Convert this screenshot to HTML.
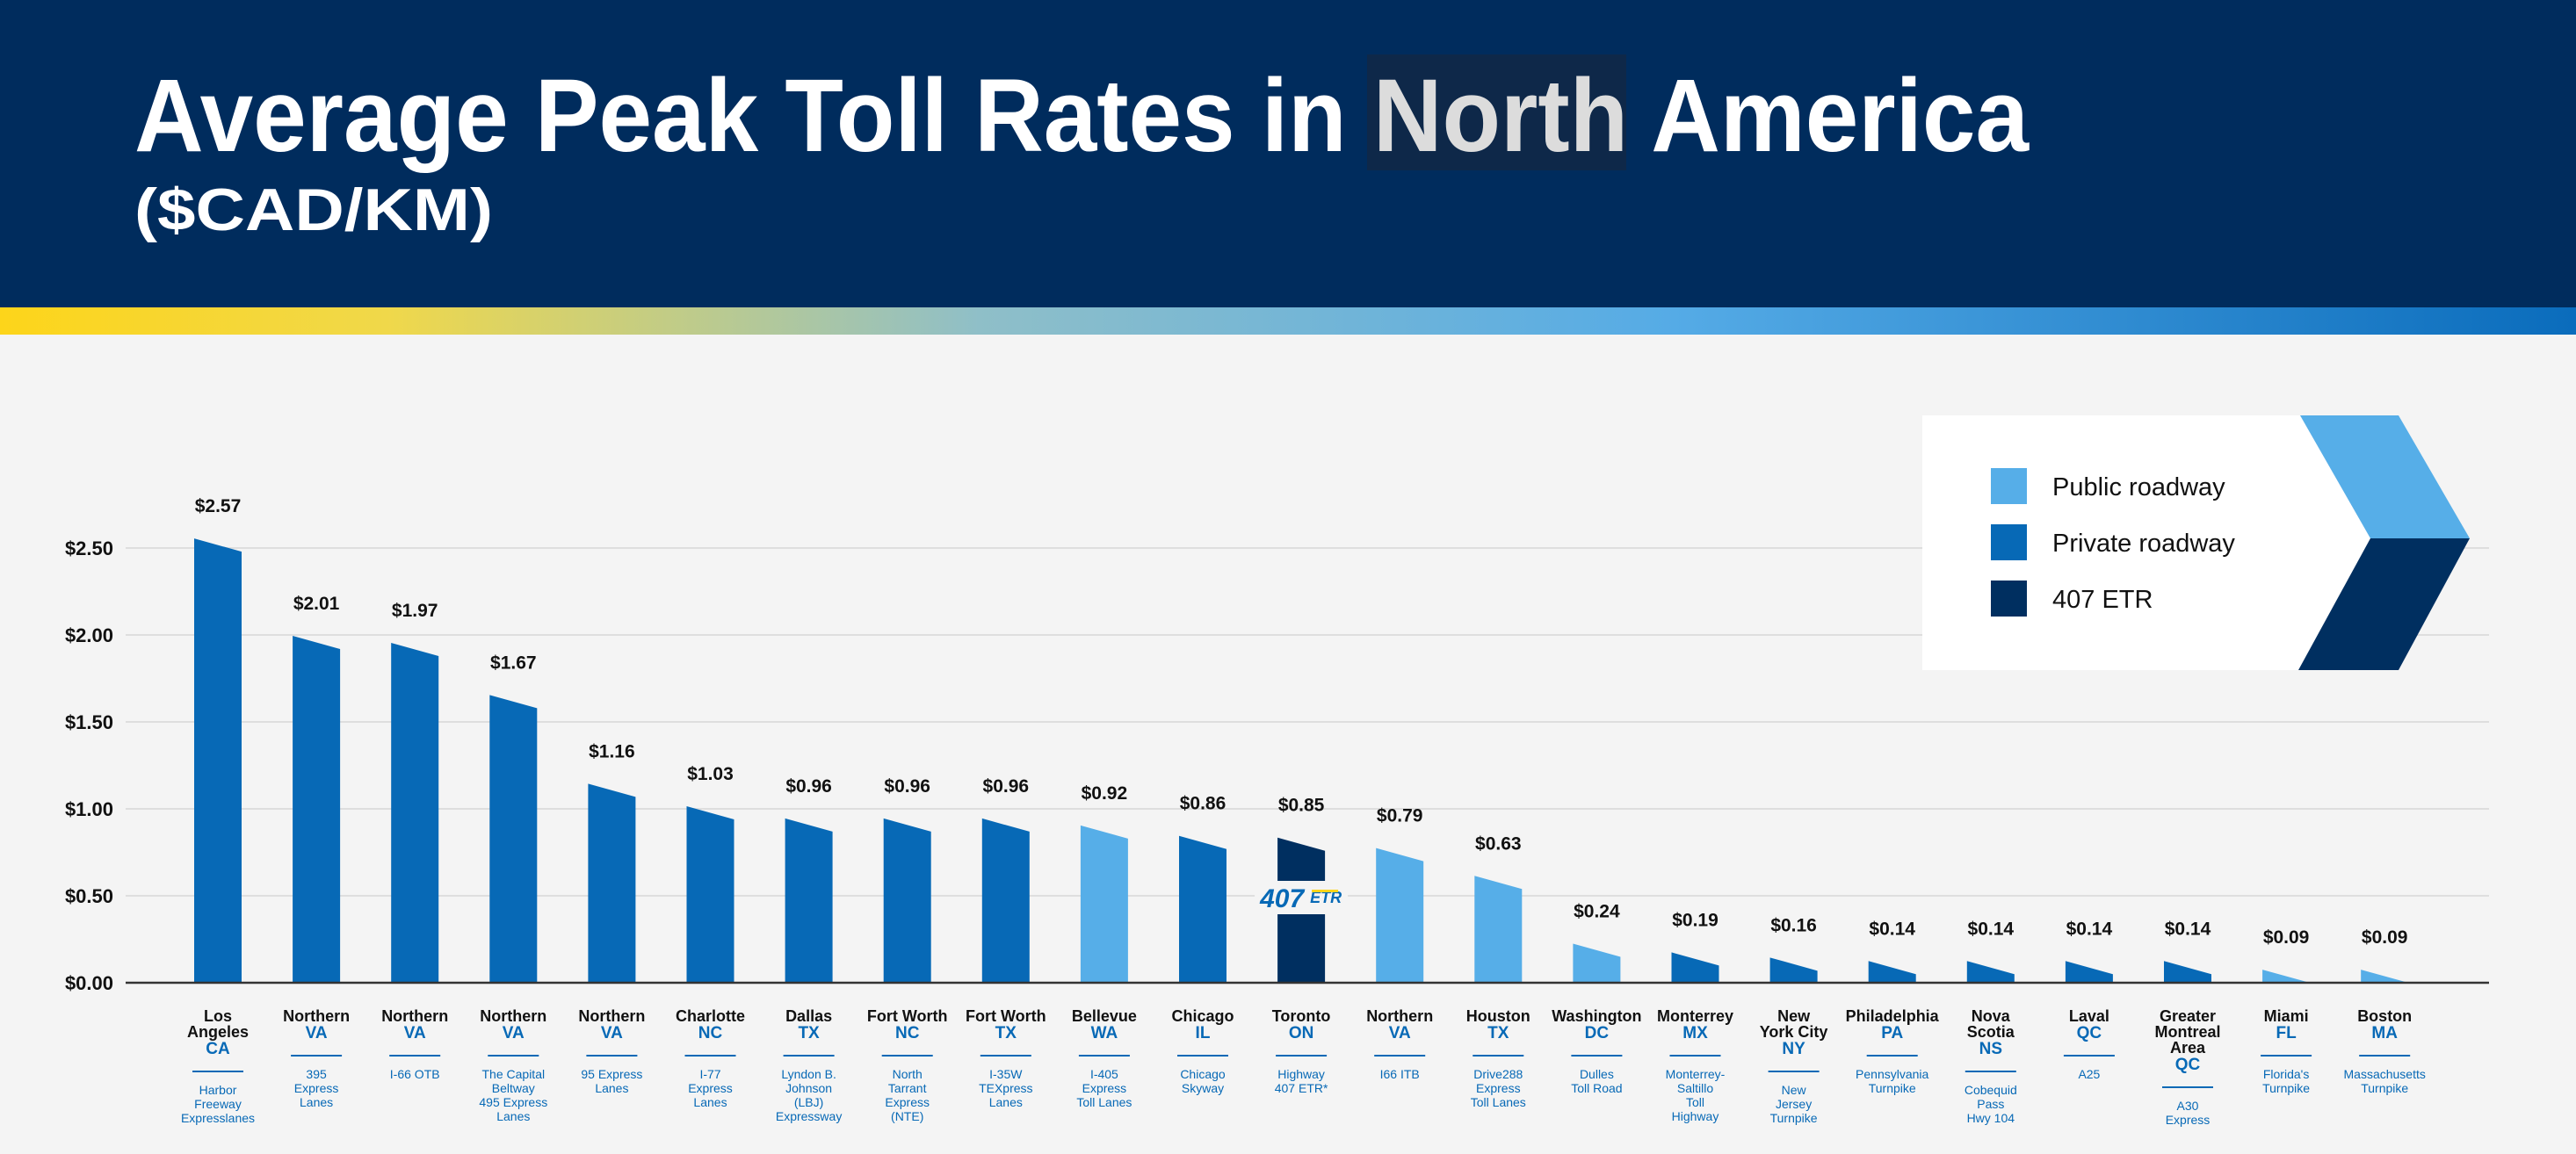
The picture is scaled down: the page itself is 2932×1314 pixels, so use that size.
<!DOCTYPE html>
<html><head><meta charset="utf-8"><style>
html,body{margin:0;padding:0;background:#f4f4f4;}
svg{display:block;font-family:"Liberation Sans",sans-serif;}
</style></head><body>
<svg id="chart" width="2932" height="1314" viewBox="0 0 2932 1314" xmlns="http://www.w3.org/2000/svg">
<defs>
<linearGradient id="strip" x1="0" x2="1" y1="0" y2="0">
<stop offset="0" stop-color="#fdd51a"/><stop offset="0.15" stop-color="#f0d84a"/><stop offset="0.38" stop-color="#8fbfc8"/><stop offset="0.65" stop-color="#55abe6"/><stop offset="1" stop-color="#0a6cbc"/>
</linearGradient>
</defs>
<rect x="0" y="0" width="2932" height="1314" fill="#f4f4f4"/>
<rect x="0" y="0" width="2932" height="350" fill="#002c5d"/>
<rect x="0" y="350" width="2932" height="31" fill="url(#strip)"/>
<rect x="1556" y="62" width="295" height="132" fill="#0e2849"/>
<text x="153" y="172" font-size="118" font-weight="bold" fill="#fff" textLength="2156" lengthAdjust="spacingAndGlyphs">Average Peak Toll Rates in <tspan fill="#dcdcdc">North</tspan> America</text>
<text x="153" y="262" font-size="68" font-weight="bold" fill="#fff" textLength="408" lengthAdjust="spacingAndGlyphs">($CAD/KM)</text>

<g id="plot"></g>

<g>
<polygon points="2188,473 2618,473 2698,613 2618,763 2188,763" fill="#fff"/>
<polygon points="2618,473 2730,473 2811,613 2698,613" fill="#56aee8"/>
<polygon points="2698,613 2811,613 2730,763 2616,763" fill="#002f60"/>
<g><rect x="2266" y="533" width="41" height="41" fill="#56aee8"/><text x="2336" y="564" font-size="29" fill="#111">Public roadway</text></g>
<g><rect x="2266" y="597" width="41" height="41" fill="#0769b6"/><text x="2336" y="628" font-size="29" fill="#111">Private roadway</text></g>
<g><rect x="2266" y="661" width="41" height="41" fill="#002f60"/><text x="2336" y="692" font-size="29" fill="#111">407 ETR</text></g>
</g>
</svg>
<script>
const cities = [["Los","Angeles"],["Northern"],["Northern"],["Northern"],["Northern"],["Charlotte"],["Dallas"],["Fort Worth"],["Fort Worth"],["Bellevue"],["Chicago"],["Toronto"],["Northern"],["Houston"],["Washington"],["Monterrey"],["New","York City"],["Philadelphia"],["Nova","Scotia"],["Laval"],["Greater","Montreal","Area"],["Miami"],["Boston"]];
const states = ["CA","VA","VA","VA","VA","NC","TX","NC","TX","WA","IL","ON","VA","TX","DC","MX","NY","PA","NS","QC","QC","FL","MA"];
const roads = [["Harbor","Freeway","Expresslanes"],["395","Express","Lanes"],["I-66 OTB"],["The Capital","Beltway","495 Express","Lanes"],["95 Express","Lanes"],["I-77","Express","Lanes"],["Lyndon B.","Johnson","(LBJ)","Expressway"],["North","Tarrant","Express","(NTE)"],["I-35W","TEXpress","Lanes"],["I-405","Express","Toll Lanes"],["Chicago","Skyway"],["Highway","407 ETR*"],["I66 ITB"],["Drive288","Express","Toll Lanes"],["Dulles","Toll Road"],["Monterrey-","Saltillo","Toll","Highway"],["New","Jersey","Turnpike"],["Pennsylvania","Turnpike"],["Cobequid","Pass","Hwy 104"],["A25"],["A30","Express"],["Florida's","Turnpike"],["Massachusetts","Turnpike"]];
const values = [2.57,2.01,1.97,1.67,1.16,1.03,0.96,0.96,0.96,0.92,0.86,0.85,0.79,0.63,0.24,0.19,0.16,0.14,0.14,0.14,0.14,0.09,0.09];
const types = ["private","private","private","private","private","private","private","private","private","public","private","etr","public","public","public","private","private","private","private","private","private","public","public"];
const valueLabels = ["$2.57","$2.01","$1.97","$1.67","$1.16","$1.03","$0.96","$0.96","$0.96","$0.92","$0.86","$0.85","$0.79","$0.63","$0.24","$0.19","$0.16","$0.14","$0.14","$0.14","$0.14","$0.09","$0.09"];
const yTicks = [0,0.5,1,1.5,2,2.5];
const yTickLabels = ["$0.00","$0.50","$1.00","$1.50","$2.00","$2.50"];

const NS="http://www.w3.org/2000/svg";
const g=document.getElementById('plot');
const colors={private:"#0769b6",public:"#56aee8",etr:"#002f60"};
const y0=1119, pxPer=198, x0=221, step=112.1, bw=54, xEnd=2833;
const yScale=v=>y0-v*pxPer;
const xScale=i=>x0+i*step;
function mk(tag,attrs,parent){const e=document.createElementNS(NS,tag);for(const k in attrs)e.setAttribute(k,attrs[k]);(parent||g).appendChild(e);return e;}

yTicks.forEach((t,i)=>{
  if(t>0){const l=mk('line',{x1:143,x2:xEnd,y1:yScale(t),y2:yScale(t),stroke:"#dedede","stroke-width":2});
  
  }
  const tx=mk('text',{x:129,y:yScale(t)+8,"text-anchor":"end","font-size":22,"font-weight":"bold",fill:"#111"});
  tx.textContent=yTickLabels[i];
  
  
});

values.forEach((v,i)=>{
  const x=xScale(i), top=yScale(v)+3, r=Math.min(top+15,y0), cx=x+bw/2;
  const p=mk('polygon',{points:`${x},${y0} ${x},${top} ${x+bw},${r} ${x+bw},${y0}`,fill:colors[types[i]]});
  
  
  const vl=mk('text',{x:cx,y:top-30,"text-anchor":"middle","font-size":21,"font-weight":"bold",fill:"#111"});
  vl.textContent=valueLabels[i];
  
  
  const lg=mk('g',{});
  
  
  let yy=1163;
  cities[i].forEach(c=>{const t=mk('text',{x:cx,y:yy,"text-anchor":"middle","font-size":18,"font-weight":"bold",fill:"#111"},lg);t.textContent=c;yy+=18;});
  yy+=1;
  const st=mk('text',{x:cx,y:yy,"text-anchor":"middle","font-size":19,"font-weight":"bold",fill:"#0769b6"},lg);st.textContent=states[i];
  yy+=20;
  mk('line',{x1:cx-29,x2:cx+29,y1:yy,y2:yy,stroke:"#0769b6","stroke-width":2},lg);
  yy+=26;
  roads[i].forEach(r=>{const t=mk('text',{x:cx,y:yy,"text-anchor":"middle","font-size":14,fill:"#0769b6"},lg);t.textContent=r;yy+=16;});
  if(types[i]==='etr'){
    const lb=mk('rect',{x:cx-53,y:1003,width:106,height:38,fill:"#f4f4f4"});
    
    
    const lt=mk('text',{x:cx-47,y:1033,"font-size":30,"font-weight":"bold","font-style":"italic",fill:"#0769b6"});
    lt.textContent="407";
    
    
    const lt2=mk('text',{x:cx+10,y:1028,"font-size":18,"font-weight":"bold","font-style":"italic",fill:"#0769b6"});
    lt2.textContent="ETR";
    
    
    mk('rect',{x:cx+12,y:1013,width:30,height:3,fill:"#fdd51a"});
  }
});
const ax=mk('line',{x1:143,x2:xEnd,y1:y0,y2:y0,stroke:"#333","stroke-width":2.5});


</script>
</body></html>
